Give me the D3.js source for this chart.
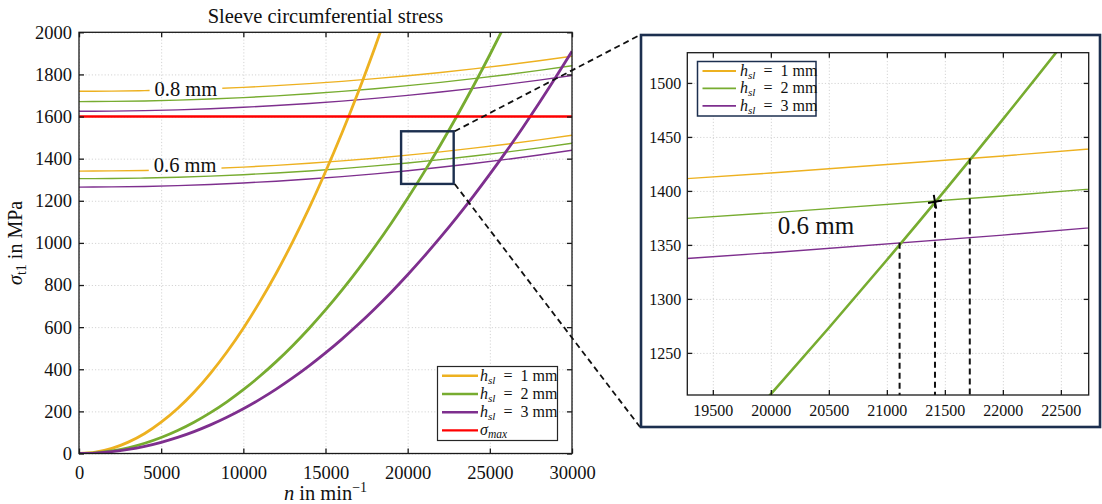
<!DOCTYPE html>
<html>
<head>
<meta charset="utf-8">
<script src="https://cdn.jsdelivr.net/npm/d3@7"></script>
<style>
  html, body { margin: 0; padding: 0; background: #fff; }
  svg { display: block; font-family: "Liberation Serif", "Times New Roman", serif; }
</style>
</head>
<body>
<svg id="chart" width="1102" height="504"></svg>
<script>
// ---- data -------------------------------------------------------------
// rotational speed (1/min) for the sleeve-thickness curves
const thickSpeed = [0,1000,2000,3000,4000,5000,6000,7000,8000,9000,10000,11000,12000,13000,14000,15000,
  16000,17000,18000,19000,20000,21000,22000,23000,24000,25000,26000,27000,28000,29000,30000];
// circumferential stress (MPa) for sleeve thickness 1, 2, 3 mm
const stressH1 = [0,6,24,54,95,149,214,291,381,482,595,720,856,1005,1165,1338,1522,1718,1927,2147];
const stressH2 = [0,3,12.1,27.3,48.5,75.7,109.1,148.4,193.9,245.4,303,366.6,436.2,512,593.8,681.6,775.6,
  875.5,981.6,1093.6,1211.8,1336,1466.3,1602.6,1745,1893.4,2047.9];
const stressH3 = [0,2.1,8.5,19.1,34,53.1,76.4,104,135.8,171.9,212.2,256.8,305.6,358.7,416,477.5,543.3,
  613.3,687.6,766.1,848.9,935.9,1027.1,1122.6,1222.4,1326.4,1434.6,1547.1,1663.8,1784.8,1910];

// permissible stress curves for interference 0.8 mm and 0.6 mm
const thinSpeed = [0,2000,4000,6000,8000,10000,12000,14000,16000,18000,20000,22000,24000,26000,28000,30000];
const limit08H1 = [1720,1720.7,1723,1726.6,1731.8,1738.4,1746.6,1756.2,1767.2,1779.8,1793.8,1809.3,1826.2,1844.7,1864.6,1886];
const limit08H2 = [1671,1671.8,1674,1677.8,1683.1,1689.9,1698.2,1708,1719.4,1732.2,1746.6,1762.4,1779.8,1798.7,1819.1,1841];
const limit08H3 = [1625,1625.8,1628,1631.8,1637.1,1643.9,1652.2,1662,1673.4,1686.2,1700.6,1716.4,1733.8,1752.7,1773.1,1795];
const limit06H1 = [1341,1341.8,1344,1347.8,1353.1,1359.9,1368.2,1378,1389.4,1402.2,1416.6,1432.4,1449.8,1468.7,1489.1,1511];
const limit06H2 = [1305,1305.7,1308,1311.7,1316.9,1323.7,1331.9,1341.6,1352.8,1365.5,1379.7,1395.3,1412.5,1431.2,1451.3,1473];
const limit06H3 = [1265,1265.8,1268.1,1272,1277.4,1284.4,1293,1303.1,1314.8,1328,1342.8,1359.1,1377,1396.4,1417.4,1440];

const sigmaMax = 1600;

// curve labels
const groupLabels = ["0.8 mm", "0.6 mm"];
const groupLabelSpeed = [4600, 4550];
const groupLabelStress = [1698, 1335];

// zoom window in the overview plot
const zoomSpeed = [19600, 22800];
const zoomStress = [1280, 1530];

// detail view ranges and intersections
const detailSpeed = [19280, 22740];
const detailStress = [1211, 1528];
const crossSpeed = [21110, 21415, 21715];
const crossStress = [1352, 1390, 1430];
const markSpeed = 21415, markStress = 1390;
const detailLabel = "0.6 mm", detailLabelSpeed = 20060, detailLabelStress = 1360;

// ticks
const xTicks = [0,5000,10000,15000,20000,25000,30000];
const yTicks = [0,200,400,600,800,1000,1200,1400,1600,1800,2000];
const xTicksDetail = [19500,20000,20500,21000,21500,22000,22500];
const yTicksDetail = [1250,1300,1350,1400,1450,1500];

const series = [
  {name: "1", color: "#EDB120", values: stressH1, limits: [limit08H1, limit06H1]},
  {name: "2", color: "#77AC30", values: stressH2, limits: [limit08H2, limit06H2]},
  {name: "3", color: "#7E2F8E", values: stressH3, limits: [limit08H3, limit06H3]}
];
const redColor = "#FF0000";
const navy = "#1c2f4f";

// ---- layout -----------------------------------------------------------
const svg = d3.select("#chart");
const M = {left: 79, right: 572, top: 32.3, bottom: 453.5};
const D = {left: 687.3, right: 1088.7, top: 52.7, bottom: 395};

const x = d3.scaleLinear().domain([0, 30000]).range([M.left, M.right]);
const y = d3.scaleLinear().domain([0, 2000]).range([M.bottom, M.top]);
const xd = d3.scaleLinear().domain(detailSpeed).range([D.left, D.right]);
const yd = d3.scaleLinear().domain(detailStress).range([D.bottom, D.top]);

const defs = svg.append("defs");
defs.append("clipPath").attr("id", "clipMain").append("rect")
  .attr("x", M.left).attr("y", M.top).attr("width", M.right - M.left).attr("height", M.bottom - M.top);
defs.append("clipPath").attr("id", "clipDetail").append("rect")
  .attr("x", D.left).attr("y", D.top).attr("width", D.right - D.left).attr("height", D.bottom - D.top);

function zip(xs, ys) { return ys.map((v, i) => [xs[i], v]); }

function drawFrame(g, X, Y, xt, yt, B) {
  // dotted grid
  g.append("g").attr("transform", `translate(0,${B.bottom})`)
    .call(d3.axisBottom(X).tickValues(xt).tickSize(-(B.bottom - B.top)).tickFormat(""))
    .call(s => s.select(".domain").remove())
    .call(s => s.selectAll("line").attr("stroke", "#d4d4d4").attr("stroke-dasharray", "1.2,2").attr("stroke-width", 1));
  g.append("g").attr("transform", `translate(${B.left},0)`)
    .call(d3.axisLeft(Y).tickValues(yt).tickSize(-(B.right - B.left)).tickFormat(""))
    .call(s => s.select(".domain").remove())
    .call(s => s.selectAll("line").attr("stroke", "#d4d4d4").attr("stroke-dasharray", "1.2,2").attr("stroke-width", 1));
}

function drawAxes(g, X, Y, xt, yt, B, labelSize, xPad, yPad) {
  const style = s => {
    s.select(".domain").remove();
    s.selectAll("line").attr("stroke", "#1a1a1a").attr("stroke-width", 1.3);
    s.selectAll("text").attr("font-size", labelSize).attr("fill", "#111")
      .attr("font-family", "'Liberation Serif', serif");
  };
  g.append("g").attr("transform", `translate(0,${B.bottom})`)
    .call(d3.axisBottom(X).tickValues(xt).tickSize(-5).tickPadding(xPad).tickFormat(d3.format("d"))).call(style);
  g.append("g").attr("transform", `translate(0,${B.top})`)
    .call(d3.axisTop(X).tickValues(xt).tickSize(-5).tickFormat("")).call(style);
  g.append("g").attr("transform", `translate(${B.left},0)`)
    .call(d3.axisLeft(Y).tickValues(yt).tickSize(-5).tickPadding(yPad).tickFormat(d3.format("d"))).call(style);
  g.append("g").attr("transform", `translate(${B.right},0)`)
    .call(d3.axisRight(Y).tickValues(yt).tickSize(-5).tickFormat("")).call(style);
  g.append("rect").attr("x", B.left).attr("y", B.top)
    .attr("width", B.right - B.left).attr("height", B.bottom - B.top)
    .attr("fill", "none").attr("stroke", "#1a1a1a").attr("stroke-width", 1.3);
}

function legendLabel(text, suffix, size) {
  text.append("tspan").attr("font-style", "italic").text("h");
  text.append("tspan").attr("font-style", "italic").attr("font-size", size * 0.7).attr("dy", 3).text("sl");
  text.append("tspan").attr("dy", -3).text(`\u2002=\u2002${suffix} mm`);
}

// ---- overview plot ------------------------------------------------------
const main = svg.append("g");
drawFrame(main, x, y, xTicks, yTicks, M);

const lineMain = d3.line().x(d => x(d[0])).y(d => y(d[1])).curve(d3.curveMonotoneX);
const plotMain = main.append("g").attr("clip-path", "url(#clipMain)");

// curve labels with gaps in the first-thickness limit lines
const labelNodes = groupLabels.map((t, i) =>
  main.append("text").attr("x", x(groupLabelSpeed[i])).attr("y", y(groupLabelStress[i]))
    .attr("font-size", 20.5).attr("fill", "#111").text(t));
const gaps = labelNodes.map(n => { const b = n.node().getBBox(); return [b.x - 5, b.x + b.width + 5]; });

series.forEach((s, si) => {
  s.limits.forEach((lim, li) => {
    const path = plotMain.append("path").datum(zip(thinSpeed, lim))
      .attr("fill", "none").attr("stroke", s.color).attr("stroke-width", 1.4).attr("d", lineMain);
    if (si === 0) {
      const id = "gap" + li;
      const cp = defs.append("clipPath").attr("id", id);
      cp.append("rect").attr("x", M.left).attr("y", M.top).attr("width", gaps[li][0] - M.left).attr("height", M.bottom - M.top);
      cp.append("rect").attr("x", gaps[li][1]).attr("y", M.top).attr("width", M.right - gaps[li][1]).attr("height", M.bottom - M.top);
      path.attr("clip-path", `url(#${id})`);
    }
  });
});
series.forEach(s => {
  plotMain.append("path").datum(zip(thickSpeed, s.values))
    .attr("fill", "none").attr("stroke", s.color).attr("stroke-width", 2.8).attr("d", lineMain);
});
plotMain.append("line").attr("x1", x(0)).attr("x2", x(30000)).attr("y1", y(sigmaMax)).attr("y2", y(sigmaMax))
  .attr("stroke", redColor).attr("stroke-width", 2.6);
labelNodes.forEach(n => n.raise());

drawAxes(main, x, y, xTicks, yTicks, M, 18.5, 12, 7);

// title and axis titles
svg.append("text").attr("x", (M.left + M.right) / 2).attr("y", 23).attr("text-anchor", "middle")
  .attr("font-size", 20.5).attr("fill", "#111").text("Sleeve circumferential stress");
const xl = svg.append("text").attr("x", (M.left + M.right) / 2).attr("y", 500).attr("text-anchor", "middle")
  .attr("font-size", 20.5).attr("fill", "#111");
xl.append("tspan").attr("font-style", "italic").text("n");
xl.append("tspan").text(" in min");
xl.append("tspan").attr("font-size", 14).attr("dy", -8).text("\u22121");
const yl = svg.append("text").attr("transform", `translate(22,${(M.top + M.bottom) / 2}) rotate(-90)`)
  .attr("text-anchor", "middle").attr("font-size", 20).attr("fill", "#111");
yl.append("tspan").attr("font-style", "italic").text("\u03c3");
yl.append("tspan").attr("font-size", 14).attr("dy", 4).text("t1");
yl.append("tspan").attr("dy", -4).text(" in MPa");

// overview legend
const lg = svg.append("g");
lg.append("rect").attr("x", 437.5).attr("y", 366.5).attr("width", 120).attr("height", 74)
  .attr("fill", "#fff").attr("stroke", "#262626").attr("stroke-width", 1.2);
const legendRows = series.map(s => ({color: s.color, label: s.name})).concat([{color: redColor, label: null}]);
legendRows.forEach((r, i) => {
  const ly = 375.8 + i * 18.2;
  lg.append("line").attr("x1", 442).attr("x2", 478).attr("y1", ly).attr("y2", ly)
    .attr("stroke", r.color).attr("stroke-width", 2.4);
  const t = lg.append("text").attr("x", 480).attr("y", ly + 5).attr("font-size", 16).attr("fill", "#111");
  if (r.label) legendLabel(t, r.label, 16);
  else {
    t.append("tspan").attr("font-style", "italic").text("\u03c3");
    t.append("tspan").attr("font-style", "italic").attr("font-size", 11.5).attr("dy", 3).text("max");
  }
});

// zoom window and connectors
svg.append("rect").attr("x", x(zoomSpeed[0])).attr("y", y(zoomStress[1]))
  .attr("width", x(zoomSpeed[1]) - x(zoomSpeed[0])).attr("height", y(zoomStress[0]) - y(zoomStress[1]))
  .attr("fill", "none").attr("stroke", navy).attr("stroke-width", 2.4);

const F = {left: 641, right: 1100, top: 35, bottom: 427};
[[y(zoomStress[1]), F.top], [y(zoomStress[0]), F.bottom]].forEach(([y1, y2]) => {
  svg.append("line").attr("x1", x(zoomSpeed[1]) + 1).attr("y1", y1).attr("x2", F.left - 1).attr("y2", y2)
    .attr("stroke", "#111").attr("stroke-width", 1.8).attr("stroke-dasharray", "6,4");
});

// ---- detail plot --------------------------------------------------------
const det = svg.append("g");
det.append("rect").attr("x", F.left).attr("y", F.top).attr("width", F.right - F.left).attr("height", F.bottom - F.top)
  .attr("fill", "#fff").attr("stroke", navy).attr("stroke-width", 2.6);
drawFrame(det, xd, yd, xTicksDetail, yTicksDetail, D);

const lineDet = d3.line().x(d => xd(d[0])).y(d => yd(d[1])).curve(d3.curveMonotoneX);
const plotDet = det.append("g").attr("clip-path", "url(#clipDetail)");
series.forEach(s => {
  plotDet.append("path").datum(zip(thinSpeed, s.limits[1]))
    .attr("fill", "none").attr("stroke", s.color).attr("stroke-width", 1.4).attr("d", lineDet);
});
series.forEach(s => {
  plotDet.append("path").datum(zip(thickSpeed, s.values))
    .attr("fill", "none").attr("stroke", s.color).attr("stroke-width", 2.6).attr("d", lineDet);
});
crossSpeed.forEach((n, i) => {
  plotDet.append("line").attr("x1", xd(n)).attr("x2", xd(n)).attr("y1", yd(crossStress[i])).attr("y2", D.bottom)
    .attr("stroke", "#111").attr("stroke-width", 2).attr("stroke-dasharray", "6,4");
});
const mk = det.append("g").attr("transform", `translate(${xd(markSpeed)},${yd(markStress)}) rotate(-10)`);
mk.append("line").attr("x1", -7).attr("x2", 7).attr("y1", 0).attr("y2", 0).attr("stroke", "#000").attr("stroke-width", 2);
mk.append("line").attr("x1", 0).attr("x2", 0).attr("y1", -7).attr("y2", 7).attr("stroke", "#000").attr("stroke-width", 2);

det.append("text").attr("x", xd(detailLabelSpeed)).attr("y", yd(detailLabelStress))
  .attr("font-size", 25).attr("fill", "#111").text(detailLabel);

drawAxes(det, xd, yd, xTicksDetail, yTicksDetail, D, 16, 10, 6);

// detail legend
const dl = det.append("g");
dl.append("rect").attr("x", 697.5).attr("y", 61.5).attr("width", 118.5).attr("height", 54.5)
  .attr("fill", "#fff").attr("stroke", navy).attr("stroke-width", 1.5);
series.forEach((s, i) => {
  const ly = 71 + i * 17.4;
  dl.append("line").attr("x1", 702.5).attr("x2", 736).attr("y1", ly).attr("y2", ly)
    .attr("stroke", s.color).attr("stroke-width", 1.8);
  const t = dl.append("text").attr("x", 740).attr("y", ly + 5).attr("font-size", 16).attr("fill", "#111");
  legendLabel(t, s.name, 16);
});
</script>
</body>
</html>
